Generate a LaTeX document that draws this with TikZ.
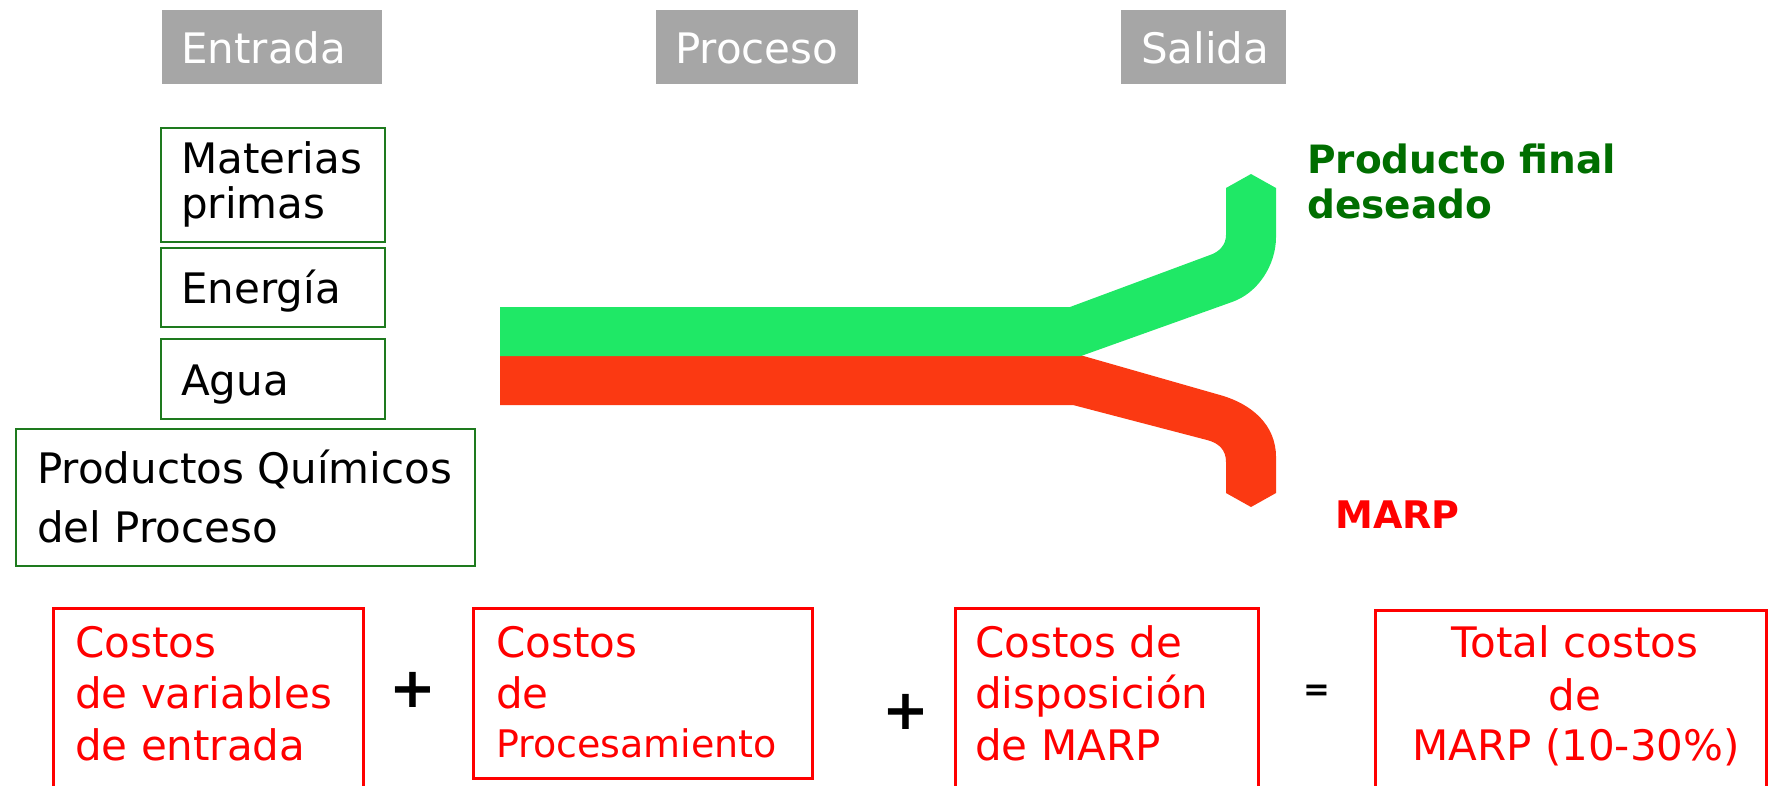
\documentclass[tikz,border=0pt]{standalone}
\usepackage{fontspec}
\setmainfont{DejaVu Sans}
\definecolor{hdrgray}{HTML}{A6A6A6}
\definecolor{boxgreen}{HTML}{1E7A1E}
\definecolor{txtgreen}{HTML}{006E00}
\definecolor{flowgreen}{HTML}{1FE866}
\definecolor{flowred}{HTML}{FB3912}
\definecolor{boxred}{HTML}{FF0000}
\begin{document}
\begin{tikzpicture}[x=1pt,y=-1pt,
  hdrbox/.style={fill=hdrgray,draw=none,inner sep=0pt},
  gbox/.style={draw=boxgreen,line width=2pt,inner sep=0pt},
  rbox/.style={draw=boxred,line width=3pt,inner sep=0pt},
  txt/.style={anchor=base west,inner sep=0pt,font=\fontsize{42}{48}\selectfont},
  hdrtxt/.style={txt,text=white},
  rtxt/.style={txt,text=boxred},
  rctxt/.style={anchor=base,inner sep=0pt,font=\fontsize{42}{48}\selectfont,text=boxred},
  outtxt/.style={anchor=base west,inner sep=0pt,font=\fontsize{39}{45}\selectfont\bfseries},
  optxt/.style={anchor=center,inner sep=0pt,font=\fontsize{56}{60}\selectfont\bfseries}
]
\useasboundingbox (0,0) rectangle (1768,785);

% header boxes
\node[hdrbox,minimum width=220pt,minimum height=74pt] (hEnt) at (272,47) {};
\node[hdrbox,minimum width=202pt,minimum height=74pt] (hPro) at (757,47) {};
\node[hdrbox,minimum width=165pt,minimum height=74pt] (hSal) at (1203.5,47) {};
\node[hdrtxt] (tEnt) at (181,63) {Entrada};
\node[hdrtxt] (tPro) at (675,63) {Proceso};
\node[hdrtxt] (tSal) at (1141,63) {Salida};

% input boxes
\node[gbox,minimum width=224pt,minimum height=114pt] (bMat) at (273,185) {};
\node[gbox,minimum width=224pt,minimum height=79pt] (bEne) at (273,287.5) {};
\node[gbox,minimum width=224pt,minimum height=80pt] (bAgu) at (273,379) {};
\node[gbox,minimum width=459pt,minimum height=137pt] (bQui) at (245.5,497.5) {};
\node[txt] (tMat1) at (181,173) {Materias};
\node[txt] (tMat2) at (181,218) {primas};
\node[txt] (tEne) at (181,303) {Energía};
\node[txt] (tAgu) at (181,395) {Agua};
\node[txt] (tQui1) at (37,483) {Productos Químicos};
\node[txt] (tQui2) at (37,542) {del Proceso};

% flows
\fill[flowred] (500,355) -- (1080,355) -- (1220,395)
  .. controls (1252,404) and (1276,425) .. (1276,457)
  -- (1276,493) -- (1251,507) -- (1226,493) -- (1226,462)
  .. controls (1226,450) and (1219,443) .. (1207,440)
  -- (1073,405) -- (500,405) -- cycle;
\fill[flowgreen] (500,307) -- (1070,307) -- (1210,255)
  .. controls (1219,252) and (1226,245) .. (1226,235)
  -- (1226,188) -- (1251,174) -- (1276,188) -- (1276,237)
  .. controls (1276,265) and (1258,293) .. (1232,302)
  -- (1081,356) -- (500,356) -- cycle;

% outputs
\node[outtxt,text=txtgreen] (tProd1) at (1307,173) {Producto final};
\node[outtxt,text=txtgreen] (tProd2) at (1307,218) {deseado};
\node[outtxt,text=boxred,font=\fontsize{38}{44}\selectfont\bfseries] (tMarp) at (1335,528) {MARP};

% cost boxes
\node[rbox,minimum width=310pt,minimum height=200pt] (c1) at (208,708) {};
\node[rbox,minimum width=339pt,minimum height=170pt] (c2) at (642.5,693) {};
\node[rbox,minimum width=303pt,minimum height=200pt] (c3) at (1106.5,708) {};
\node[rbox,minimum width=391pt,minimum height=200pt] (c4) at (1570.5,710) {};

\node[rtxt] (c1a) at (75,657) {Costos};
\node[rtxt] (c1b) at (75,708) {de variables};
\node[rtxt] (c1c) at (75,760) {de entrada};
\node[rtxt] (c2a) at (496,657) {Costos};
\node[rtxt] (c2b) at (496,708) {de};
\node[rtxt,font=\fontsize{38}{44}\selectfont] (c2c) at (496,757) {Procesamiento};
\node[rtxt] (c3a) at (975,657) {Costos de};
\node[rtxt] (c3b) at (975,708) {disposición};
\node[rtxt] (c3c) at (975,760) {de MARP};
\node[rctxt] (c4a) at (1575,657) {Total costos};
\node[rctxt] (c4b) at (1575,710) {de};
\node[rctxt] (c4c) at (1576,760) {MARP (10-30\%)};

\node[optxt] (op1) at (413,690) {+};
\node[optxt] (op2) at (906,712) {+};
\node[optxt,font=\fontsize{32}{36}\selectfont\bfseries] (op3) at (1317,693) {=};
\end{tikzpicture}
\end{document}
